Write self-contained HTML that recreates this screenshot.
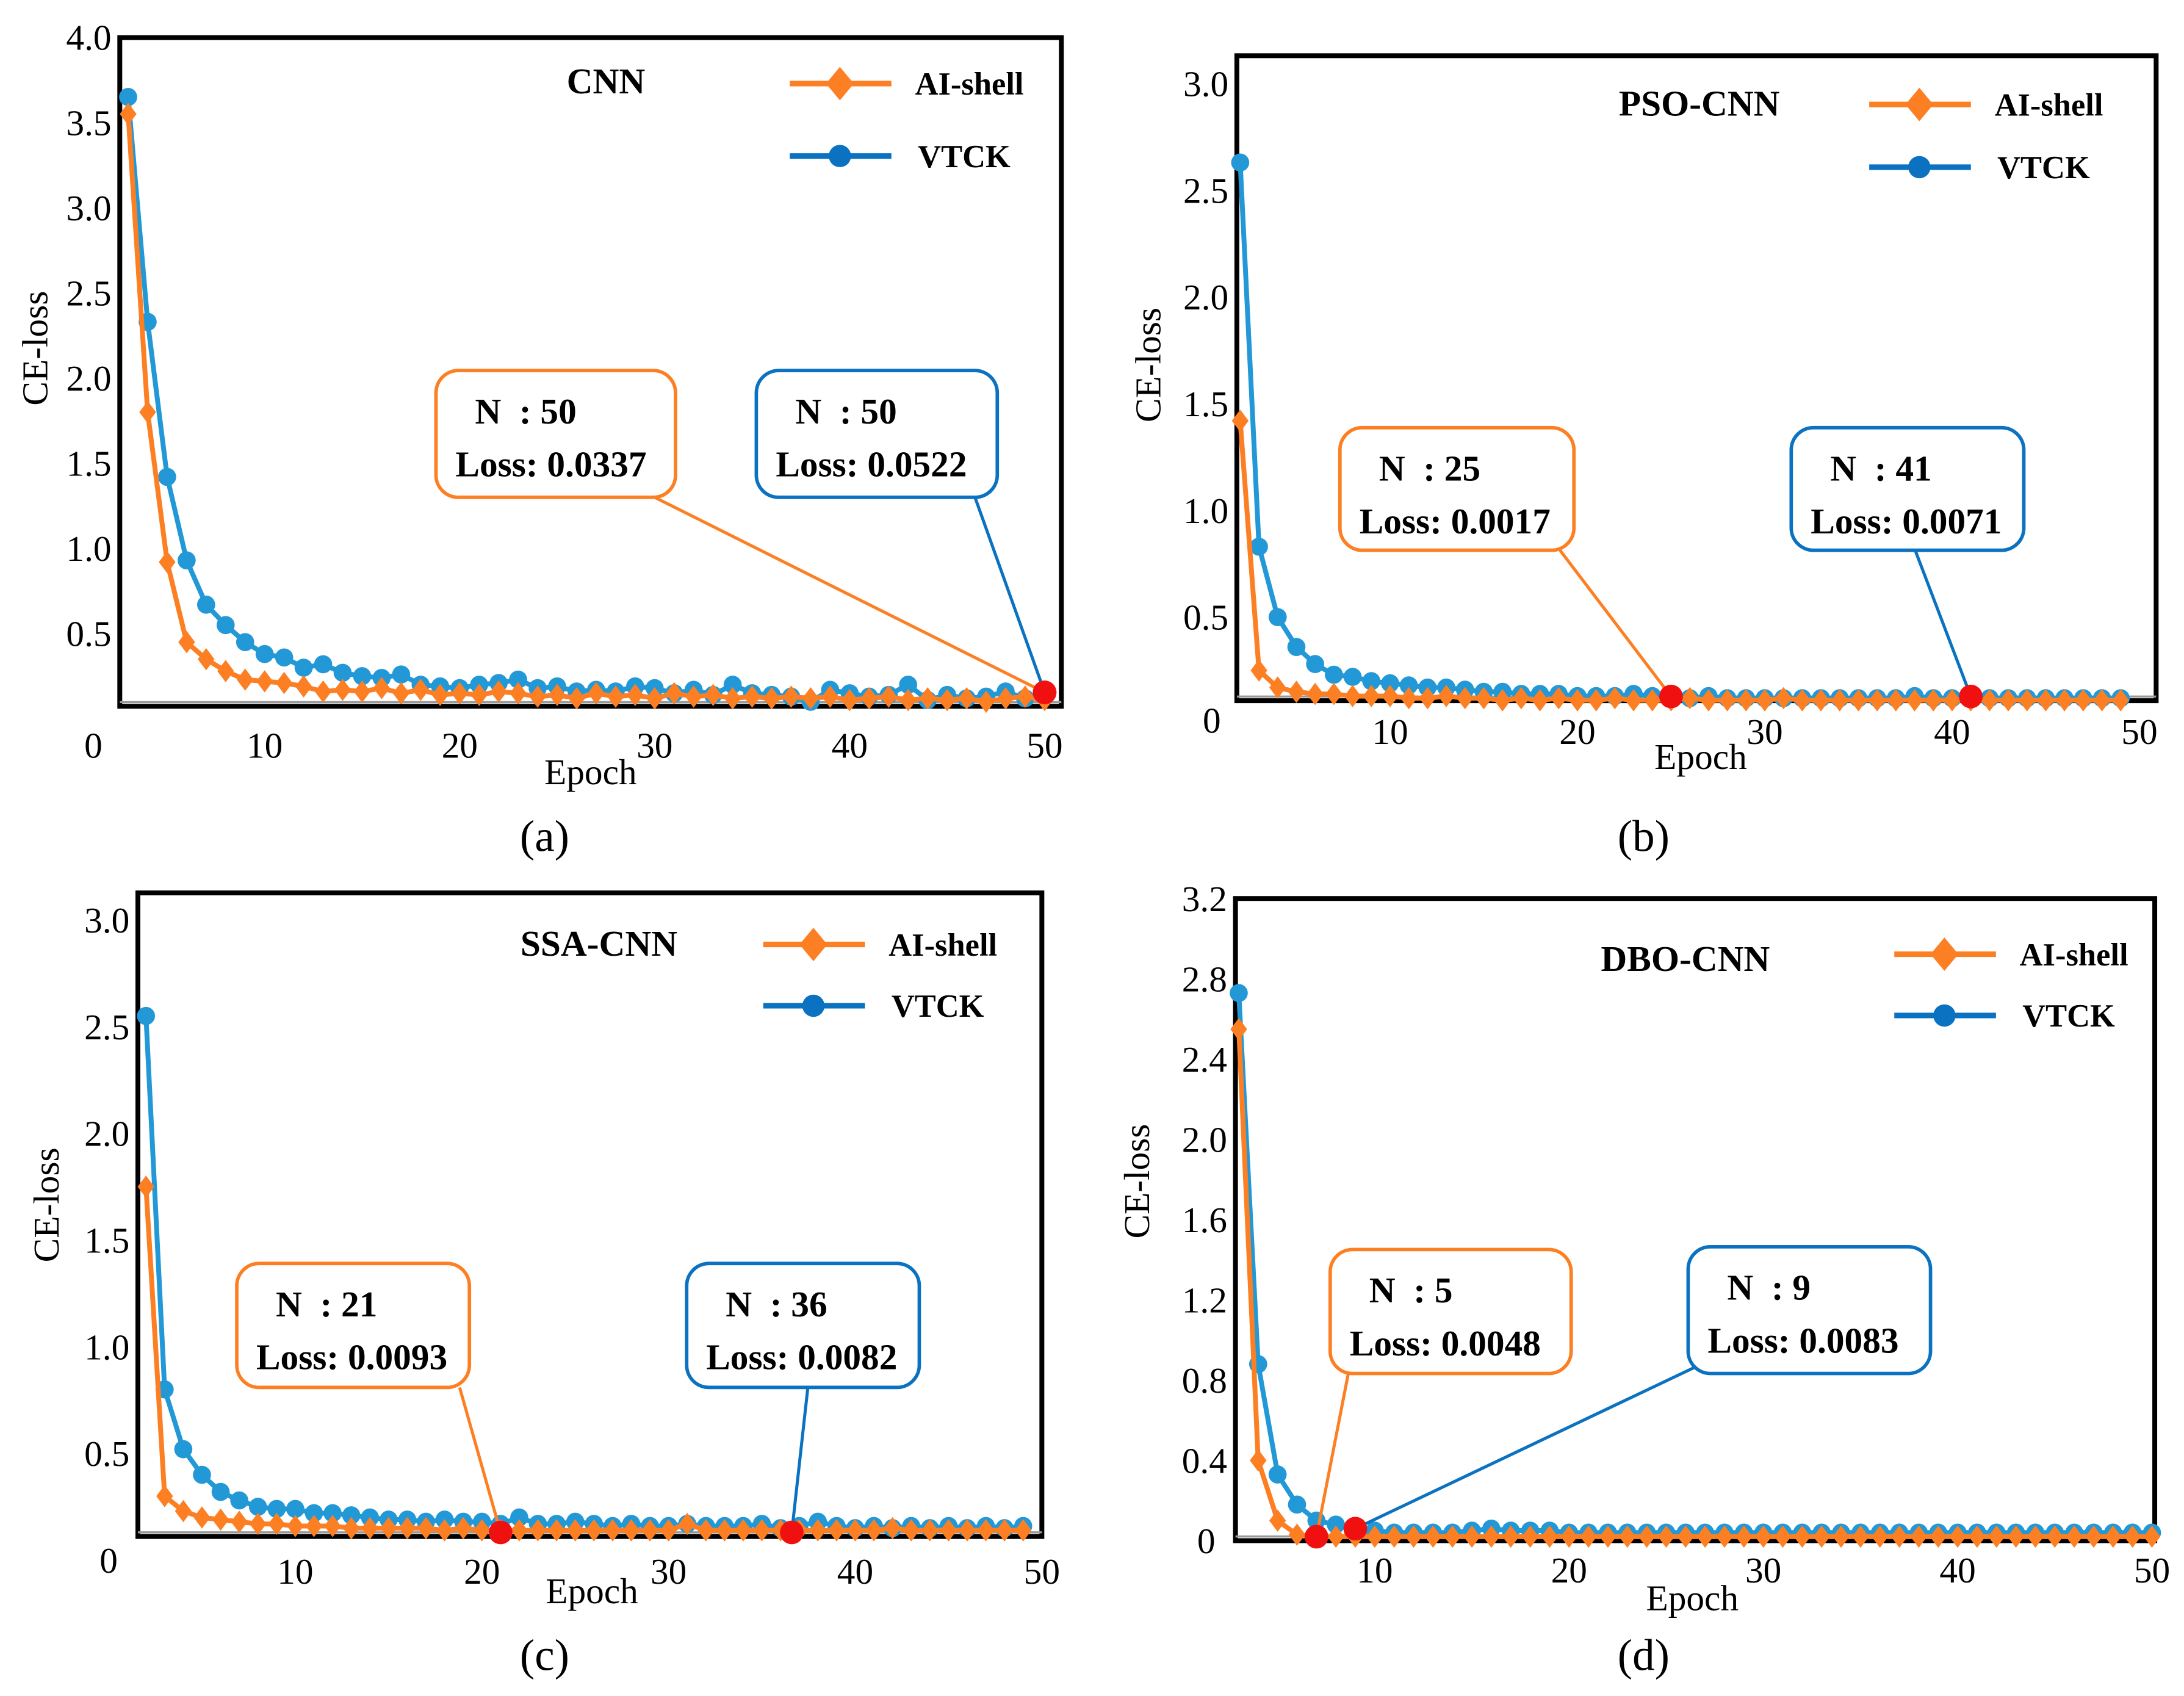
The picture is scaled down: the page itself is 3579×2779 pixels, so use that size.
<!DOCTYPE html>
<html><head><meta charset="utf-8"><style>
html,body{margin:0;padding:0;background:#fff}
svg{display:block;font-family:"Liberation Serif","DejaVu Serif",serif}
svg text{font-family:"Liberation Serif","DejaVu Serif",serif;fill:#000}
</style></head><body>
<svg id="fig" width="3579" height="2779" viewBox="0 0 1568 1217.5" font-family="Liberation Serif, serif" xmlns="http://www.w3.org/2000/svg"></svg>
<script>
// ---------- data ----------
const epochsA = Array.from({length:48},(_,i)=>i+3);
const aiA = [3.55,1.80,0.92,0.45,0.35,0.28,0.23,0.22,0.21,0.19,0.16,0.17,0.16,0.18,0.15,0.17,0.14,0.15,0.14,0.16,0.15,0.13,0.14,0.12,0.15,0.13,0.14,0.12,0.15,0.13,0.14,0.12,0.13,0.12,0.13,0.12,0.13,0.11,0.12,0.13,0.11,0.12,0.11,0.12,0.10,0.12,0.13,0.11];
const vtA = [3.65,2.33,1.42,0.93,0.67,0.55,0.45,0.38,0.36,0.30,0.32,0.27,0.25,0.24,0.26,0.20,0.19,0.18,0.20,0.21,0.23,0.18,0.19,0.16,0.17,0.16,0.19,0.18,0.15,0.17,0.14,0.20,0.15,0.14,0.13,0.10,0.17,0.15,0.13,0.14,0.20,0.11,0.14,0.12,0.13,0.16,0.12,0.14];
const yTicksA = [0.5,1.0,1.5,2.0,2.5,3.0,3.5,4.0];

const epochsB = Array.from({length:48},(_,i)=>i+2);
const aiB = [1.42,0.25,0.17,0.15,0.14,0.14,0.13,0.13,0.13,0.12,0.12,0.13,0.12,0.12,0.11,0.12,0.11,0.12,0.11,0.11,0.12,0.11,0.11,0.11,0.12,0.11,0.11,0.11,0.11,0.12,0.11,0.11,0.11,0.11,0.11,0.11,0.11,0.11,0.11,0.11,0.11,0.11,0.11,0.11,0.11,0.11,0.11,0.11];
const vtB = [2.63,0.83,0.50,0.36,0.28,0.23,0.22,0.20,0.19,0.18,0.17,0.17,0.16,0.15,0.15,0.14,0.14,0.14,0.13,0.13,0.13,0.14,0.13,0.13,0.12,0.13,0.12,0.12,0.12,0.12,0.12,0.12,0.12,0.12,0.12,0.12,0.13,0.12,0.12,0.12,0.12,0.12,0.12,0.12,0.12,0.12,0.12,0.12];
const yTicksB = [0.5,1.0,1.5,2.0,2.5,3.0];

const epochsC = Array.from({length:48},(_,i)=>i+2);
const aiC = [1.75,0.30,0.23,0.20,0.19,0.18,0.17,0.17,0.16,0.16,0.16,0.15,0.15,0.15,0.15,0.15,0.14,0.15,0.14,0.14,0.14,0.14,0.14,0.14,0.14,0.14,0.14,0.14,0.14,0.17,0.14,0.14,0.14,0.14,0.14,0.14,0.14,0.14,0.14,0.14,0.15,0.14,0.14,0.14,0.14,0.14,0.14,0.14];
const vtC = [2.55,0.80,0.52,0.40,0.32,0.28,0.25,0.24,0.24,0.22,0.22,0.21,0.20,0.19,0.19,0.18,0.19,0.18,0.18,0.17,0.20,0.17,0.17,0.18,0.17,0.16,0.17,0.16,0.16,0.17,0.16,0.16,0.16,0.17,0.15,0.16,0.18,0.16,0.15,0.16,0.15,0.16,0.15,0.16,0.15,0.16,0.15,0.16];
const yTicksC = [0.5,1.0,1.5,2.0,2.5,3.0];

const epochsD = Array.from({length:48},(_,i)=>i+3);
const aiD = [2.55,0.40,0.10,0.03,0.02,0.02,0.02,0.02,0.02,0.02,0.02,0.02,0.02,0.02,0.02,0.02,0.02,0.02,0.02,0.02,0.02,0.02,0.02,0.02,0.02,0.02,0.02,0.02,0.02,0.02,0.02,0.02,0.02,0.02,0.02,0.02,0.02,0.02,0.02,0.02,0.02,0.02,0.02,0.02,0.02,0.02,0.02,0.02];
const vtD = [2.73,0.88,0.33,0.18,0.10,0.08,0.06,0.05,0.04,0.04,0.04,0.04,0.05,0.06,0.05,0.05,0.05,0.04,0.04,0.04,0.04,0.04,0.04,0.04,0.04,0.04,0.04,0.04,0.04,0.04,0.04,0.04,0.04,0.04,0.04,0.04,0.04,0.04,0.04,0.04,0.04,0.04,0.04,0.04,0.04,0.04,0.04,0.04];
const yTicksD = [0.4,0.8,1.2,1.6,2.0,2.4,2.8,3.2];

const xTicks = [10,20,30,40,50];
</script>
<script>
const NS="http://www.w3.org/2000/svg";
const svg=document.getElementById('fig');
const OR="#fd7f23", BL="#2299d6", BLD="#0a72c0";
const FF="Liberation Serif, DejaVu Serif, serif";
function mk(tag,attrs,parent){const e=document.createElementNS(NS,tag);for(const k in attrs)e.setAttribute(k,attrs[k]);(parent||svg).appendChild(e);return e;}
function txt(x,y,s,size,opt,parent){const t=mk('text',Object.assign({x:x,y:y,'font-size':size,'font-family':FF},opt||{}),parent);t.textContent=s;return t;}

function panel(c){
  const g=mk('g',{});
  
  
  const X=e=>c.x0+c.xs*e, Y=v=>c.y0-c.ys*v;
  const box=mk('rect',{x:c.box[0],y:c.box[1],width:c.box[2]-c.box[0],height:c.box[3]-c.box[1],fill:'none',stroke:'#000','stroke-width':3.5},g);
  
  const base=mk('line',{x1:c.box[0],x2:c.box[2],y1:c.box[3]-3,y2:c.box[3]-3,stroke:'#999','stroke-width':1.5},g);
  
  c.yt.forEach(v=>{const t=txt(c.box[0]-6,Y(v)+9,c.fmt(v),26,{'text-anchor':'end'},g);
    });
  const z=txt(c.zero[0],c.zero[1],'0',26,{'text-anchor':'middle'},g);
  
  xTicks.forEach(v=>{const t=txt(X(v),c.xl,String(v),26,{'text-anchor':'middle'},g);
    });
  const xt=txt(c.ep[0],c.ep[1],'Epoch',26,{'text-anchor':'middle'},g);
  
  const yt=txt(0,0,'CE-loss',26,{'text-anchor':'middle',transform:`translate(${c.yl[0]},${c.yl[1]}) rotate(-90)`},g);
  
  const cap=txt(c.cap[0],c.cap[1],'('+c.capt+')',32,{'text-anchor':'middle'},g);
  
  const ti=txt(c.title[0],c.title[1],c.titleText,26,{'text-anchor':'middle','font-weight':'bold'},g);
  
  const pts=(vals)=>vals.map((v,i)=>X(c.ep_[i]).toFixed(1)+','+Y(v).toFixed(1)).join(' ');
  const lb=mk('polyline',{points:pts(c.vt),fill:'none',stroke:BL,'stroke-width':3.5},g);
  
  c.vt.forEach((v,i)=>{const m=mk('circle',{cx:X(c.ep_[i]),cy:Y(v),r:6.5,fill:BL},g);
    });
  const lo=mk('polyline',{points:pts(c.ai),fill:'none',stroke:OR,'stroke-width':3.5},g);
  
  c.ai.forEach((v,i)=>{const x=X(c.ep_[i]),y=Y(v);
    const m=mk('polygon',{points:`${x},${y-8} ${x+6},${y} ${x},${y+8} ${x-6},${y}`,fill:OR},g);
    });
  const L=c.leg;
  const l1=mk('line',{x1:L[0],x2:L[0]+73,y1:L[1],y2:L[1],stroke:OR,'stroke-width':4},g);
  
  const d1=mk('polygon',{points:`${L[0]+36},${L[1]-12} ${L[0]+46},${L[1]} ${L[0]+36},${L[1]+12} ${L[0]+26},${L[1]}`,fill:OR},g);
  
  const t1=txt(L[0]+90,L[1]+8,'AI-shell',23,{'font-weight':'bold'},g);
  
  const l2=mk('line',{x1:L[0],x2:L[0]+73,y1:L[2],y2:L[2],stroke:BLD,'stroke-width':4},g);
  
  const d2=mk('circle',{cx:L[0]+36,cy:L[2],r:8,fill:BLD},g);
  
  const t2=txt(L[0]+92,L[2]+8,'VTCK',23,{'font-weight':'bold'},g);
  
  c.calls.forEach(k=>{
    const col=k.col, px=X(k.e), py=Y(k.v);
    const ln=mk('line',{x1:k.from[0],y1:k.from[1],x2:px,y2:py,stroke:col,'stroke-width':2.2},g);
    
    const r=mk('rect',{x:k.b[0],y:k.b[1],width:k.b[2]-k.b[0],height:k.b[3]-k.b[1],rx:16,fill:'#fff',stroke:col,'stroke-width':2.5},g);
    
    const a=txt(k.b[0]+28,k.b[1]+38,'N\u00a0\u00a0: '+k.n,26,{'font-weight':'bold'},g);
    
    const b=txt(k.b[0]+14,k.b[1]+76,'Loss: '+k.loss,26,{'font-weight':'bold'},g);
    
    const d=mk('circle',{cx:px,cy:py,r:8.5,fill:'#f01010'},g);
    
  });
}
const f1=v=>v.toFixed(1);
panel({name:'panel-a-cnn',box:[86,27,762,507],x0:50,xs:14,y0:516,ys:122.3,yt:yTicksA,fmt:f1,zero:[67,544],xl:544,
  ep:[424,563],yl:[34,250],cap:[391,611],capt:'a',title:[435,67],titleText:'CNN',ep_:epochsA,ai:aiA,vt:vtA,leg:[567,60,112],
  calls:[{col:OR,b:[313,266,485,357],from:[470,357],e:50,v:0.155,n:'50',loss:'0.0337'},
         {col:BLD,b:[543,266,716,357],from:[700,357],e:50,v:0.155,n:'50',loss:'0.0522'}]});
panel({name:'panel-b-pso-cnn',box:[888,40,1548,503],x0:863.5,xs:13.45,y0:519.6,ys:153.2,yt:yTicksB,fmt:f1,zero:[870,526],xl:534,
  ep:[1221,552],yl:[833,262],cap:[1180,611],capt:'b',title:[1220,83],titleText:'PSO-CNN',ep_:epochsB,ai:aiB,vt:vtB,leg:[1342,75,120],
  calls:[{col:OR,b:[962,307,1130,395],from:[1120,395],e:25,v:0.128,n:'25',loss:'0.0017'},
         {col:BLD,b:[1286,307,1453,395],from:[1375,395],e:41,v:0.128,n:'41',loss:'0.0071'}]});
panel({name:'panel-c-ssa-cnn',box:[99,641,748,1103],x0:78,xs:13.4,y0:1120,ys:153.2,yt:yTicksC,fmt:f1,zero:[78,1129],xl:1137,
  ep:[425,1151],yl:[42,865],cap:[391,1199],capt:'c',title:[430,686],titleText:'SSA-CNN',ep_:epochsC,ai:aiC,vt:vtC,leg:[548,678,722],
  calls:[{col:OR,b:[170,907,337,996],from:[330,996],e:21,v:0.13,n:'21',loss:'0.0093'},
         {col:BLD,b:[493,907,660,996],from:[580,996],e:36.6,v:0.13,n:'36',loss:'0.0082'}]});
panel({name:'panel-d-dbo-cnn',box:[887,645,1547,1106],x0:847.5,xs:13.95,y0:1106,ys:144,yt:yTicksD,fmt:f1,zero:[866,1115],xl:1136,
  ep:[1215,1156],yl:[825,848],cap:[1180,1199],capt:'d',title:[1210,697],titleText:'DBO-CNN',ep_:epochsD,ai:aiD,vt:vtD,leg:[1360,685,729],
  calls:[{col:OR,b:[955,897,1128,986],from:[968,986],e:7,v:0.02,n:'5',loss:'0.0048'},
         {col:BLD,b:[1212,895,1386,986],from:[1220,980],e:9,v:0.06,n:'9',loss:'0.0083'}]});
</script>
</body></html>
